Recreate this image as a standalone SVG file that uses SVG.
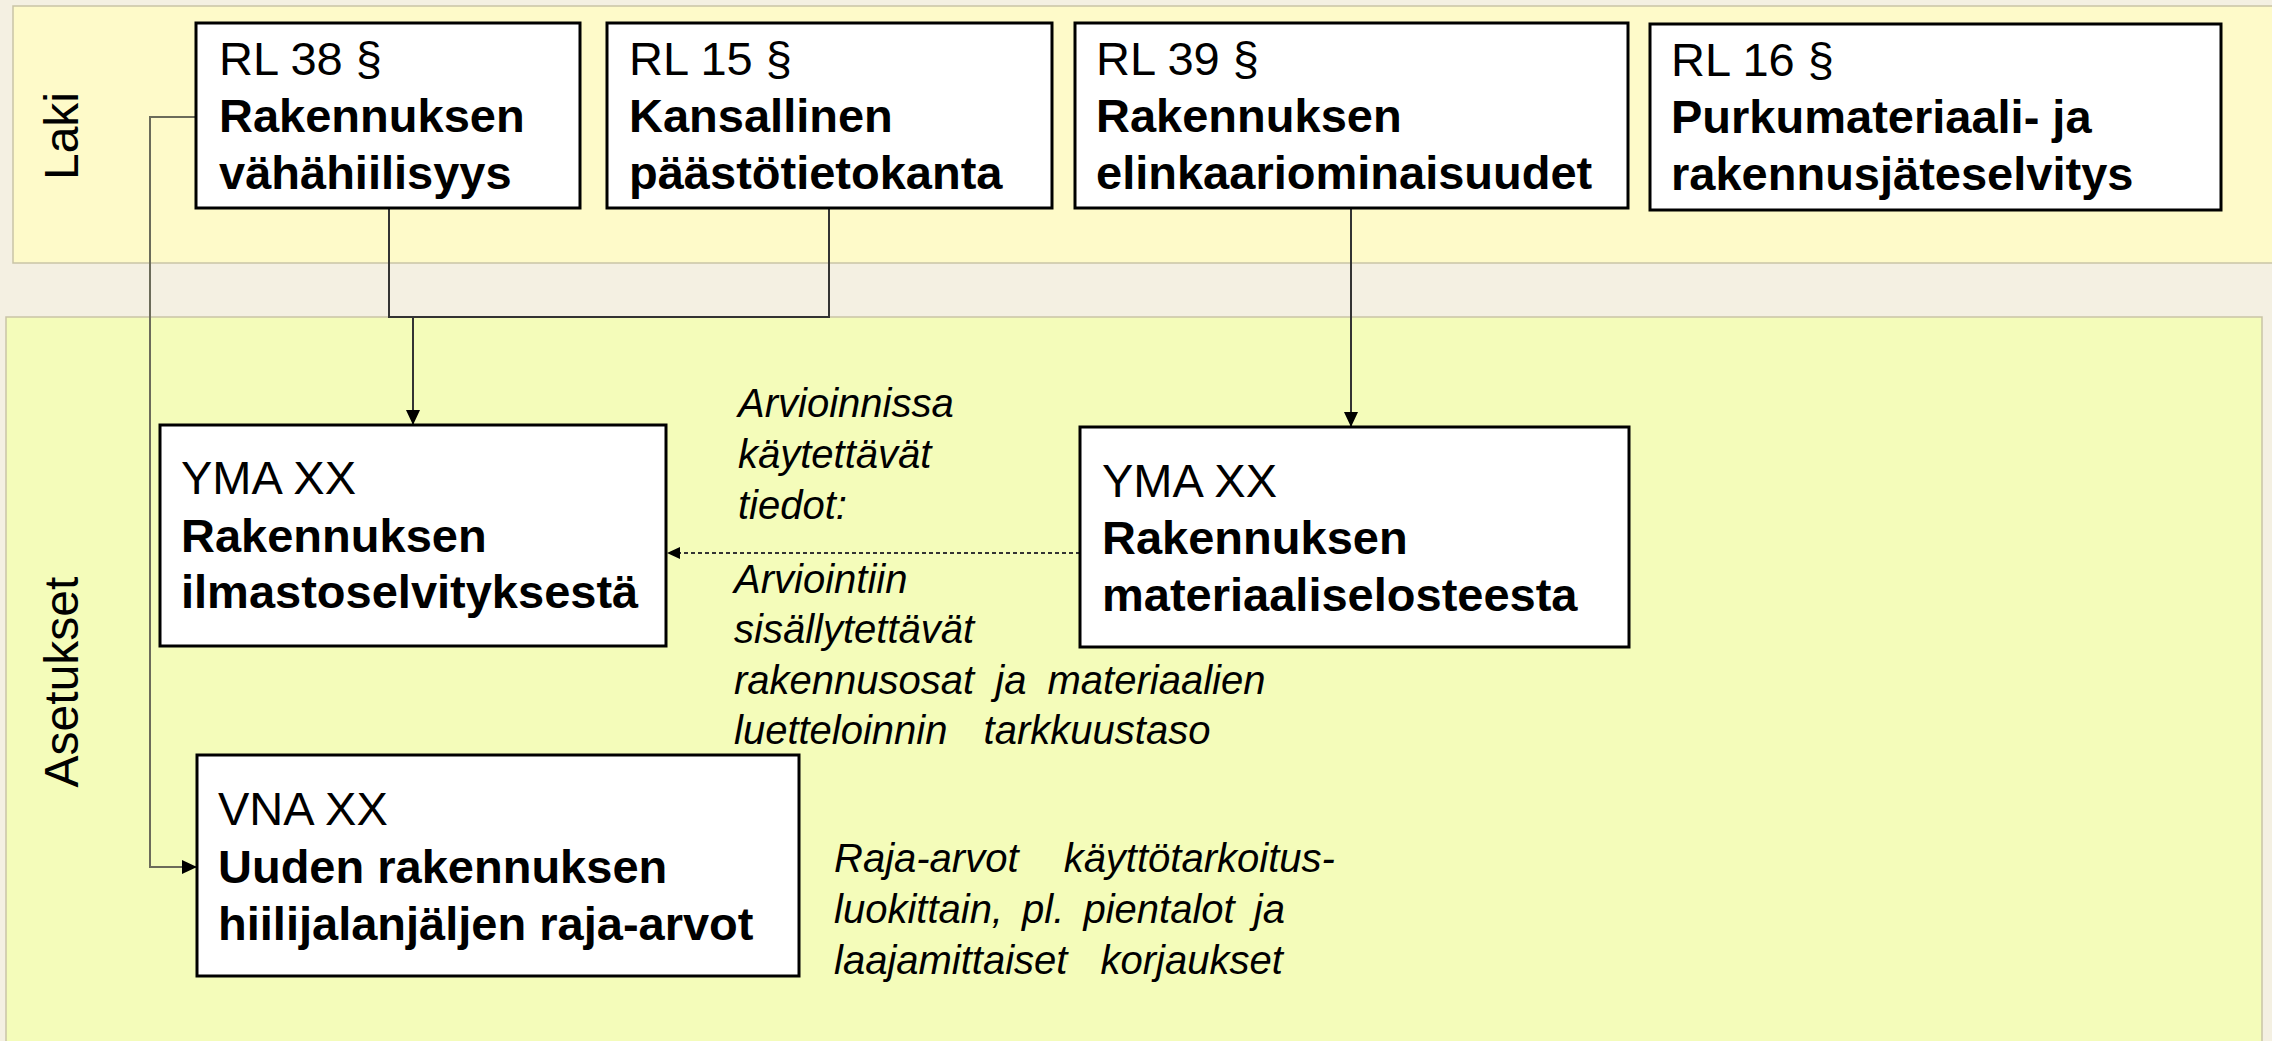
<svg xmlns="http://www.w3.org/2000/svg" width="2272" height="1041" viewBox="0 0 2272 1041">
<style>
.box{fill:#fff;stroke:#000;stroke-width:3}
.t{font-family:"Liberation Sans",Arial,sans-serif;font-size:47px;fill:#000}
.b{font-weight:bold}
.i{font-family:"Liberation Sans",Arial,sans-serif;font-size:40px;font-style:italic;fill:#000}
.lane{font-family:"Liberation Sans",Arial,sans-serif;font-size:48px;fill:#000}
.c{fill:none;stroke:#333;stroke-width:2}
</style>
<defs>
<marker id="ah" markerUnits="userSpaceOnUse" markerWidth="15" markerHeight="14" refX="15" refY="7" orient="auto"><path d="M0,0 L15,7 L0,14 z" fill="#000"/></marker>
<marker id="ahs" markerUnits="userSpaceOnUse" markerWidth="13" markerHeight="12" refX="13" refY="6" orient="auto"><path d="M0,0 L13,6 L0,12 z" fill="#000"/></marker>
</defs>
<rect x="0" y="0" width="2272" height="1041" fill="#F4F0E2"/>
<g id="lane-laki">
<rect x="13" y="6" width="2260" height="257" fill="#FEFAC9" stroke="#C9C4A6" stroke-width="1.5"/>
<text class="lane" transform="translate(78,136) rotate(-90)" text-anchor="middle">Laki</text>
</g>
<g id="lane-asetukset">
<rect x="6" y="317" width="2256" height="730" fill="#F4FCBA" stroke="#C9C4A6" stroke-width="1.5"/>
<text class="lane" transform="translate(78,682) rotate(-90)" text-anchor="middle">Asetukset</text>
</g>
<g id="connectors">
<path class="c" style="stroke:#6b6b5a" d="M196,117 H150 V867 H197" marker-end="url(#ah)"/>
<path class="c" d="M389,208 V317 H829 V208"/>
<path class="c" d="M413,317 V425" marker-end="url(#ah)"/>
<path class="c" d="M1351,200 V427" marker-end="url(#ah)"/>
<path class="c" style="stroke-dasharray:4 3;stroke-width:1.8" d="M1080,553 H667" marker-end="url(#ahs)"/>
</g>
<g id="rl38">
<rect class="box" x="196" y="23" width="384" height="185"/>
<text class="t" x="219" y="75">RL 38 §</text>
<text class="t b" x="219" y="132">Rakennuksen</text>
<text class="t b" x="219" y="189">vähähiilisyys</text>
</g>
<g id="rl15">
<rect class="box" x="607" y="23" width="445" height="185"/>
<text class="t" x="629" y="75">RL 15 §</text>
<text class="t b" x="629" y="132">Kansallinen</text>
<text class="t b" x="629" y="189">päästötietokanta</text>
</g>
<g id="rl39">
<rect class="box" x="1075" y="23" width="553" height="185"/>
<text class="t" x="1096" y="75">RL 39 §</text>
<text class="t b" x="1096" y="132">Rakennuksen</text>
<text class="t b" x="1096" y="189">elinkaariominaisuudet</text>
</g>
<g id="rl16">
<rect class="box" x="1650" y="24" width="571" height="186"/>
<text class="t" x="1671" y="76">RL 16 §</text>
<text class="t b" x="1671" y="133">Purkumateriaali- ja</text>
<text class="t b" x="1671" y="190">rakennusjäteselvitys</text>
</g>
<g id="yma-ilmasto">
<rect class="box" x="160" y="425" width="506" height="221"/>
<text class="t" x="181" y="494">YMA XX</text>
<text class="t b" x="181" y="552">Rakennuksen</text>
<text class="t b" x="181" y="608">ilmastoselvityksestä</text>
</g>
<g id="yma-materiaali">
<rect class="box" x="1080" y="427" width="549" height="220"/>
<text class="t" x="1102" y="497">YMA XX</text>
<text class="t b" x="1102" y="554">Rakennuksen</text>
<text class="t b" x="1102" y="611">materiaaliselosteesta</text>
</g>
<g id="vna">
<rect class="box" x="197" y="755" width="602" height="221"/>
<text class="t" x="218" y="825">VNA XX</text>
<text class="t b" x="218" y="883">Uuden rakennuksen</text>
<text class="t b" x="218" y="940">hiilijalanjäljen raja-arvot</text>
</g>
<g id="label-tiedot">
<text class="i" x="738" y="417">Arvioinnissa</text>
<text class="i" x="738" y="468">käytettävät</text>
<text class="i" x="738" y="519">tiedot:</text>
</g>
<g id="label-arviointiin">
<text class="i" x="734" y="593">Arviointiin</text>
<text class="i" x="734" y="643">sisällytettävät</text>
<text class="i" x="734" y="694" word-spacing="10">rakennusosat ja materiaalien</text>
<text class="i" x="734" y="744" word-spacing="25">luetteloinnin tarkkuustaso</text>
</g>
<g id="label-raja">
<text class="i" x="834" y="872" word-spacing="34">Raja-arvot käyttötarkoitus-</text>
<text class="i" x="834" y="923" word-spacing="8">luokittain, pl. pientalot ja</text>
<text class="i" x="834" y="974" word-spacing="22">laajamittaiset korjaukset</text>
</g>
</svg>
